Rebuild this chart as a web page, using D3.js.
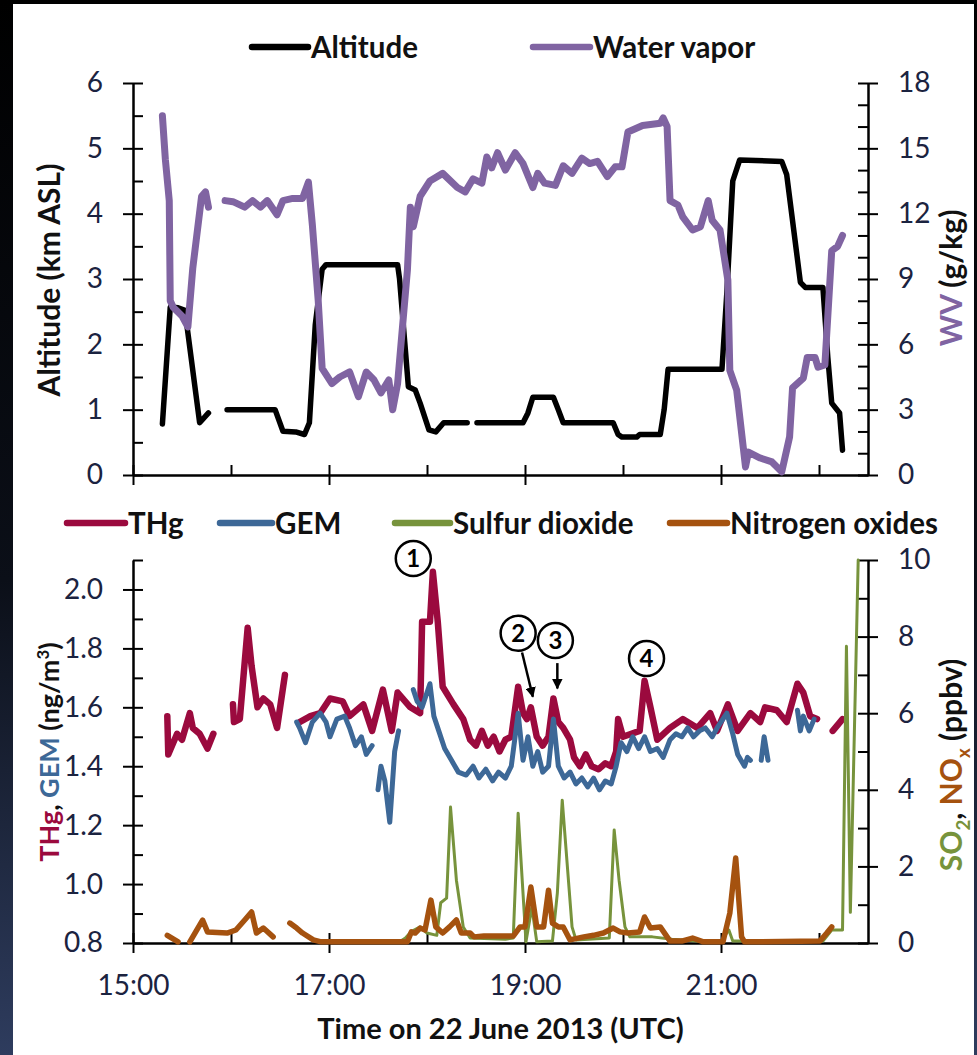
<!DOCTYPE html>
<html>
<head>
<meta charset="utf-8">
<script src="https://cdn.jsdelivr.net/npm/d3@7/dist/d3.min.js"></script>
<style>
  body { margin: 0; background: #000; }
  svg { display: block; font-family: Lato, "Open Sans", sans-serif; }
</style>
</head>
<body>
<svg id="chart" width="977" height="1055"></svg>
<script>
// ---- data (time in decimal hours UTC) ----
// null marks a break in the record
let altitude = [
  [15.30,0.78],[15.38,2.57],[15.46,2.56],[15.53,2.52],[15.68,0.80],[15.77,0.95],[15.85,null],
  [15.96,1.00],[16.45,1.00],[16.53,0.67],[16.66,0.66],[16.75,0.62],[16.80,0.80],[16.86,2.30],
  [16.93,3.15],[16.97,3.22],[17.70,3.22],[17.72,3.00],[17.81,1.35],[17.88,1.30],[17.93,1.10],
  [18.02,0.69],[18.09,0.66],[18.17,0.80],[18.41,0.80],[18.46,null],
  [18.51,0.80],[18.98,0.80],[19.03,0.95],[19.08,1.19],[19.29,1.19],[19.34,1.00],[19.39,0.80],
  [19.90,0.80],[19.95,0.62],[19.99,0.58],[20.14,0.58],[20.17,0.62],[20.38,0.62],[20.42,1.00],
  [20.46,1.62],[21.01,1.62],[21.06,2.80],[21.12,4.50],[21.19,4.82],[21.62,4.80],[21.67,4.60],
  [21.81,2.95],[21.86,2.87],[22.04,2.87],[22.09,1.80],[22.13,1.10],[22.21,0.95],[22.24,0.38]
];
let waterVapor = [
  [15.30,16.5],[15.33,14.5],[15.37,12.6],[15.38,8.0],[15.41,7.7],[15.50,7.3],[15.56,6.8],
  [15.61,9.5],[15.70,12.8],[15.74,13.0],[15.77,12.3],[15.85,null],
  [15.94,12.6],[16.02,12.55],[16.14,12.3],[16.22,12.6],[16.30,12.3],[16.37,12.6],[16.47,11.95],
  [16.53,12.6],[16.63,12.7],[16.73,12.7],[16.79,13.45],[16.83,11.5],[16.89,8.0],[16.93,4.9],
  [17.03,4.2],[17.11,4.5],[17.21,4.73],[17.30,3.6],[17.38,4.73],[17.46,4.36],[17.53,3.77],
  [17.61,4.36],[17.65,3.0],[17.70,4.2],[17.80,9.4],[17.83,12.3],[17.86,11.4],[17.93,12.8],
  [18.03,13.5],[18.16,13.85],[18.31,13.2],[18.39,13.0],[18.47,13.6],[18.56,13.4],[18.61,14.6],
  [18.66,14.1],[18.72,14.8],[18.80,14.0],[18.90,14.8],[18.98,14.3],[19.08,13.2],[19.13,13.85],
  [19.20,13.4],[19.31,13.3],[19.39,14.2],[19.48,13.85],[19.58,14.55],[19.66,14.3],[19.74,14.4],
  [19.84,13.7],[19.92,14.15],[19.99,14.15],[20.05,15.75],[20.20,16.05],[20.38,16.15],[20.41,16.4],
  [20.45,16.0],[20.48,12.6],[20.56,12.4],[20.61,11.85],[20.71,11.25],[20.79,11.4],[20.87,12.6],
  [20.91,11.7],[20.99,11.25],[21.07,8.95],[21.09,4.8],[21.16,3.9],[21.25,0.37],[21.28,1.05],
  [21.40,0.78],[21.52,0.6],[21.62,0.15],[21.70,1.75],[21.73,4.0],[21.84,4.45],[21.88,5.4],
  [21.96,5.4],[21.99,4.95],[22.06,5.05],[22.13,10.3],[22.19,10.5],[22.24,11.0]
];
let thg = [
  [15.35,1.57],[15.36,1.44],[15.45,1.51],[15.50,1.49],[15.58,1.58],[15.61,1.53],[15.68,1.51],
  [15.76,1.46],[15.82,1.51],[15.90,null],
  [16.02,1.61],[16.03,1.55],[16.09,1.56],[16.17,1.87],[16.21,1.74],[16.27,1.60],[16.33,1.63],
  [16.40,1.61],[16.47,1.53],[16.55,1.71],[16.62,null],
  [16.70,1.55],[16.81,1.57],[16.91,1.58],[17.01,1.63],[17.14,1.62],[17.21,1.57],[17.35,1.61],
  [17.44,1.52],[17.55,1.66],[17.64,1.52],[17.70,1.65],[17.83,1.60],[17.93,1.58],[17.95,1.89],
  [18.03,1.89],[18.06,2.06],[18.11,1.89],[18.16,1.67],[18.27,1.61],[18.37,1.56],[18.44,1.49],
  [18.50,1.47],[18.56,1.52],[18.62,1.47],[18.68,1.50],[18.74,1.45],[18.80,1.49],[18.86,1.50],
  [18.93,1.67],[18.98,1.58],[19.02,1.56],[19.06,1.60],[19.12,1.50],[19.18,1.47],[19.24,1.50],
  [19.29,1.63],[19.34,1.55],[19.39,1.53],[19.46,1.49],[19.50,1.43],[19.56,1.40],[19.62,1.44],
  [19.68,1.40],[19.75,1.39],[19.82,1.41],[19.88,1.40],[19.93,1.45],[19.95,1.56],[20.00,1.50],
  [20.17,1.52],[20.22,1.69],[20.28,1.60],[20.35,1.49],[20.48,1.53],[20.61,1.56],[20.76,1.53],
  [20.89,1.58],[20.96,1.52],[21.07,1.61],[21.17,1.52],[21.30,1.58],[21.40,1.55],[21.45,1.60],
  [21.57,1.59],[21.67,1.55],[21.78,1.68],[21.84,1.65],[21.91,1.57],[21.98,1.56],[22.05,null],
  [22.14,1.52],[22.24,1.56]
];
let gem = [
  [16.67,1.55],[16.70,1.53],[16.76,1.48],[16.83,1.55],[16.91,1.58],[16.97,1.55],[17.01,1.50],
  [17.08,1.56],[17.16,1.57],[17.21,1.53],[17.27,1.47],[17.33,1.50],[17.38,1.44],[17.44,1.47],
  [17.47,null],
  [17.50,1.32],[17.53,1.40],[17.57,1.35],[17.62,1.21],[17.67,1.45],[17.71,1.52],[17.78,null],
  [17.86,1.66],[17.90,1.62],[17.95,1.60],[18.03,1.68],[18.07,1.57],[18.12,1.52],[18.18,1.46],
  [18.25,1.42],[18.32,1.38],[18.40,1.37],[18.47,1.40],[18.53,1.36],[18.60,1.39],[18.67,1.35],
  [18.73,1.38],[18.80,1.36],[18.86,1.40],[18.93,1.58],[18.98,1.42],[19.03,1.50],[19.08,1.40],
  [19.13,1.45],[19.18,1.38],[19.24,1.40],[19.29,1.56],[19.34,1.40],[19.40,1.36],[19.46,1.38],
  [19.52,1.34],[19.58,1.36],[19.64,1.33],[19.70,1.36],[19.76,1.32],[19.82,1.35],[19.88,1.34],
  [19.93,1.40],[19.98,1.48],[20.04,1.45],[20.10,1.50],[20.16,1.46],[20.22,1.50],[20.28,1.45],
  [20.35,1.46],[20.41,1.43],[20.48,1.49],[20.54,1.51],[20.60,1.50],[20.66,1.53],[20.72,1.50],
  [20.78,1.52],[20.84,1.53],[20.91,1.50],[20.96,1.53],[21.06,1.58],[21.12,1.51],[21.17,1.44],
  [21.24,1.40],[21.27,1.43],[21.30,1.42],[21.35,null],
  [21.41,1.42],[21.44,1.50],[21.48,1.42],[21.60,null],
  [21.78,1.59],[21.81,1.52],[21.84,1.57],[21.90,1.52],[21.95,1.56]
];
let so2 = [
  [16.95,0.03],[17.72,0.03],[17.78,0.13],[17.84,0.30],[17.93,0.42],[18.00,0.26],[18.10,0.20],
  [18.14,1.05],[18.20,1.17],[18.24,3.55],[18.30,1.64],[18.37,0.42],[18.44,0.13],[18.80,0.10],
  [18.88,0.13],[18.93,3.39],[19.01,0.03],[19.07,0.94],[19.12,0.03],[19.28,0.05],[19.33,1.30],
  [19.38,3.73],[19.48,0.42],[19.52,0.08],[19.86,0.13],[19.91,2.95],[19.96,1.64],[20.02,0.42],
  [20.07,0.16],[20.30,0.16],[20.50,0.10],[20.75,0.05],[21.00,0.05],[21.08,0.34],[21.12,0.05],
  [22.04,0.05],[22.13,0.34],[22.24,0.34],[22.28,7.75],[22.32,0.80],[22.40,10.0]
];
let nox = [
  [15.35,0.20],[15.46,0.03],[15.52,null],
  [15.58,0.03],[15.71,0.60],[15.76,0.29],[15.96,0.26],[16.05,0.34],[16.14,0.60],[16.21,0.81],
  [16.26,0.26],[16.33,0.39],[16.43,0.16],[16.50,null],
  [16.60,0.52],[16.67,0.39],[16.73,0.26],[16.84,0.08],[16.92,0.03],[17.80,0.03],[17.84,0.29],
  [17.88,0.26],[17.93,0.39],[17.98,0.34],[18.04,1.12],[18.09,0.42],[18.16,0.26],[18.23,0.42],
  [18.30,0.60],[18.35,0.26],[18.44,0.26],[18.48,0.16],[18.58,0.18],[18.88,0.18],[18.95,0.42],
  [19.00,0.42],[19.06,1.46],[19.12,0.42],[19.19,0.42],[19.24,1.38],[19.28,0.52],[19.34,0.42],
  [19.39,0.42],[19.46,0.08],[19.60,0.16],[19.70,0.20],[19.80,0.26],[19.90,0.39],[19.97,0.29],
  [20.05,0.26],[20.17,0.29],[20.22,0.68],[20.28,0.39],[20.38,0.42],[20.48,0.05],[20.60,0.05],
  [20.71,0.13],[20.82,0.03],[21.02,0.03],[21.09,0.78],[21.15,2.22],[21.21,0.16],[21.24,0.03],
  [22.01,0.05],[22.08,0.26],[22.13,0.42]
];

// tick values
let hourTicks = [15, 16, 17, 18, 19, 20, 21, 22];
let hourLabels = [15, 17, 19, 21];
let altTicks = [0, 1, 2, 3, 4, 5, 6];
let wvTicks = [0, 3, 6, 9, 12, 15, 18];
let hgTicks = [0.8, 1.0, 1.2, 1.4, 1.6, 1.8, 2.0];
let ppbTicks = [0, 2, 4, 6, 8, 10];

// numbered events
let events = [
  {label: "1", t: 17.86, v: 2.105},
  {label: "2", t: 18.93, v: 1.851},
  {label: "3", t: 19.31, v: 1.827},
  {label: "4", t: 20.24, v: 1.766}
];
let arrows = [
  {t0: 18.97, v0: 1.786, t1: 19.08, v1: 1.636},
  {t0: 19.33, v0: 1.750, t1: 19.33, v1: 1.664}
];

// ---- colours ----
const C_ALT = "#000000", C_WV = "#8064a2", C_THG = "#9b0a3e",
      C_GEM = "#3d6897", C_SO2 = "#77933c", C_NOX = "#a5520f", C_TICK = "#1b2340";

let svg = d3.select("#chart");

// dark page surround + white panel
let defs = svg.append("defs");
let grad = defs.append("linearGradient").attr("id", "bg").attr("x1", 0).attr("y1", 0).attr("x2", 0).attr("y2", 1);
grad.append("stop").attr("offset", "0%").attr("stop-color", "#000");
grad.append("stop").attr("offset", "55%").attr("stop-color", "#0b0f18");
grad.append("stop").attr("offset", "100%").attr("stop-color", "#2e3c5e");
svg.append("rect").attr("width", 977).attr("height", 1055).attr("fill", "url(#bg)");
svg.append("rect").attr("x", 13).attr("y", 4).attr("width", 961).attr("height", 1051).attr("fill", "#fff");

// ---- scales ----
let x = d3.scaleLinear().domain([15, 22.5]).range([133, 868]);
let yAlt = d3.scaleLinear().domain([0, 6]).range([475, 83]);
let yWV = d3.scaleLinear().domain([0, 18]).range([475, 83]);
let yHg = d3.scaleLinear().domain([0.8, 2.1]).range([943, 560]);
let yPpb = d3.scaleLinear().domain([0, 10]).range([943, 560]);

const TICK = 10;
const TICK_FONT = 28, BOLD_FONT = 29.5;

function styleAxis(g) {
  g.selectAll("path, line").attr("stroke", "#000").attr("stroke-width", 2);
  g.selectAll("text").attr("fill", C_TICK).attr("font-size", TICK_FONT).attr("font-family", "Lato, sans-serif");
}

// y axis: labelled majors crossing the line, minors inside only
function yAxis(scale, xPos, majors, minorStep, side) {
  let [lo, hi] = scale.domain();
  let all = d3.range(lo, hi + minorStep / 2, minorStep).map(v => +v.toFixed(3));
  let outer = side === "left" ? d3.axisLeft(scale) : d3.axisRight(scale);
  let inner = side === "left" ? d3.axisRight(scale) : d3.axisLeft(scale);
  svg.append("g")
    .attr("transform", `translate(${xPos},0)`)
    .call(outer.tickValues(majors).tickSize(TICK).tickSizeOuter(0).tickPadding(20)
      .tickFormat(v => minorStep < 0.5 ? d3.format(".1f")(v) : v))
    .call(styleAxis);
  svg.append("g")
    .attr("transform", `translate(${xPos},0)`)
    .call(inner.tickValues(all).tickSize(TICK).tickSizeOuter(0).tickFormat(""))
    .call(styleAxis);
}

function xAxis(yPos, withLabels) {
  svg.append("g")
    .attr("transform", `translate(0,${yPos})`)
    .call(d3.axisBottom(x).tickValues(hourLabels).tickSize(TICK).tickSizeOuter(0).tickPadding(22)
      .tickFormat(h => withLabels ? `${h}:00` : ""))
    .call(styleAxis);
  svg.append("g")
    .attr("transform", `translate(0,${yPos})`)
    .call(d3.axisTop(x).tickValues(hourTicks).tickSize(TICK).tickSizeOuter(0).tickFormat(""))
    .call(styleAxis);
}

// ---- top panel: altitude & water vapour ----
xAxis(475, false);
yAxis(yAlt, 133, altTicks, 0.5, "left");
yAxis(yWV, 868, wvTicks, 1, "right");

function drawLine(data, yScale, colour, width) {
  svg.append("path")
    .datum(data)
    .attr("fill", "none")
    .attr("stroke", colour)
    .attr("stroke-width", width)
    .attr("stroke-linejoin", "round")
    .attr("stroke-linecap", "round")
    .attr("d", d3.line().defined(d => d[1] !== null).x(d => x(d[0])).y(d => yScale(d[1])));
}

drawLine(altitude, yAlt, C_ALT, 5.5);
drawLine(waterVapor, yWV, C_WV, 7);

// ---- bottom panel: mercury, SO2, NOx ----
xAxis(943, true);
yAxis(yHg, 133, hgTicks, 0.1, "left");
yAxis(yPpb, 868, ppbTicks, 1, "right");

drawLine(thg, yHg, C_THG, 6.5);
drawLine(gem, yHg, C_GEM, 5);
drawLine(so2, yPpb, C_SO2, 3);
drawLine(nox, yPpb, C_NOX, 5.5);

// ---- legends ----
function legend(items, y) {
  let g = svg.append("g");
  items.forEach(it => {
    g.append("line").attr("x1", it.x0).attr("x2", it.x1).attr("y1", y).attr("y2", y)
      .attr("stroke", it.colour).attr("stroke-width", 6.5).attr("stroke-linecap", "round");
    g.append("text").attr("x", it.x1 + 3).attr("y", y).attr("dy", "0.36em")
      .attr("font-size", BOLD_FONT).attr("font-weight", "bold").attr("fill", "#111").text(it.name);
  });
}
legend([
  {name: "Altitude", colour: C_ALT, x0: 252, x1: 308},
  {name: "Water vapor", colour: C_WV, x0: 533, x1: 590}
], 47);
legend([
  {name: "THg", colour: C_THG, x0: 67, x1: 125},
  {name: "GEM", colour: C_GEM, x0: 220, x1: 272},
  {name: "Sulfur dioxide", colour: C_SO2, x0: 395, x1: 450},
  {name: "Nitrogen oxides", colour: C_NOX, x0: 670, x1: 727}
], 523);

// ---- axis titles ----
function vTitle(cx, cy, parts, size) {
  let t = svg.append("text")
    .attr("transform", `translate(${cx},${cy}) rotate(-90)`)
    .attr("text-anchor", "middle")
    .attr("font-size", size).attr("font-weight", "bold");
  parts.forEach(p => {
    let s = t.append("tspan").attr("fill", p.colour || "#111").text(p.text);
    if (p.dy) s.attr("dy", p.dy).attr("font-size", size * 0.62);
    if (p.back) s.attr("dy", p.back);
  });
}
vTitle(60, 280, [{text: "Altitude (km ASL)"}], 30);
vTitle(962, 278, [{text: "WV", colour: C_WV}, {text: " (g/kg)"}], 30);
vTitle(59, 752, [
  {text: "THg", colour: C_THG}, {text: ", "}, {text: "GEM", colour: C_GEM},
  {text: " (ng/m"}, {text: "3", dy: -10}, {text: ")", back: 10}
], 27);
vTitle(962, 765, [
  {text: "SO", colour: C_SO2}, {text: "2", colour: C_SO2, dy: 8}, {text: ", ", back: -8},
  {text: "NO", colour: C_NOX}, {text: "x", colour: C_NOX, dy: 8}, {text: " (ppbv)", back: -8}
], 30);

svg.append("text")
  .attr("x", x(18.75)).attr("y", 1039)
  .attr("text-anchor", "middle")
  .attr("font-size", 29).attr("font-weight", "bold").attr("fill", "#111")
  .text("Time on 22 June 2013 (UTC)");

// ---- event markers ----
defs.append("marker").attr("id", "head").attr("viewBox", "0 0 10 10")
  .attr("refX", 9).attr("refY", 5).attr("markerWidth", 4.2).attr("markerHeight", 4.2)
  .attr("orient", "auto").attr("markerUnits", "strokeWidth")
  .append("path").attr("d", "M0,0L10,5L0,10z").attr("fill", "#000");

svg.selectAll(".arrow").data(arrows).enter().append("line")
  .attr("x1", d => x(d.t0)).attr("y1", d => yHg(d.v0))
  .attr("x2", d => x(d.t1)).attr("y2", d => yHg(d.v1))
  .attr("stroke", "#000").attr("stroke-width", 2.5).attr("marker-end", "url(#head)");

let ev = svg.selectAll(".ev").data(events).enter().append("g")
  .attr("transform", d => `translate(${x(d.t)},${yHg(d.v)})`);
ev.append("circle").attr("r", 17.5).attr("fill", "#fff").attr("stroke", "#000").attr("stroke-width", 2.5);
ev.append("text").attr("text-anchor", "middle").attr("dy", "0.36em")
  .attr("font-size", 24).attr("font-weight", "bold").attr("fill", "#000")
  .text(d => d.label);
</script>
</body>
</html>
